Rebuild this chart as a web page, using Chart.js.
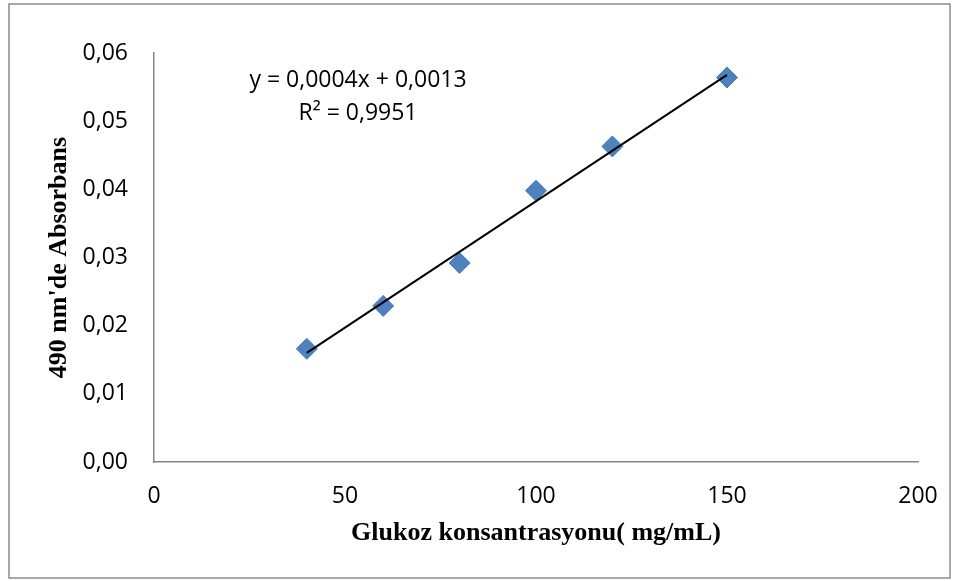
<!DOCTYPE html>
<html>
<head>
<meta charset="utf-8">
<script src="https://cdn.jsdelivr.net/npm/chart.js@4"></script>
<style>
  html, body { margin: 0; padding: 0; background: #fff; }
  #wrap { position: relative; width: 959px; height: 581px; }
</style>
</head>
<body>
<div id="wrap"><canvas id="c" width="959" height="581"></canvas></div>
<script>
// Data
const concentrations = [40, 60, 80, 100, 120, 150];
const absorbance = [0.0166, 0.0229, 0.0292, 0.0398, 0.0463, 0.0564];
const trendX = [40, 150];
const trendY = [0.0160, 0.0568];
const xTicks = [0, 50, 100, 150, 200];
const yTicks = [0, 0.01, 0.02, 0.03, 0.04, 0.05, 0.06];
const equationLines = ['y = 0,0004x + 0,0013', 'R\u00B2 = 0,9951'];
const xTitle = 'Glukoz konsantrasyonu( mg/mL)';
const yTitle = "490 nm'de Absorbans";

const tickFont = { family: '"Open Sans", sans-serif', size: 23 };
const titleFont = { family: '"Liberation Serif", "Times New Roman", serif', size: 26, weight: 'bold' };

const framePlugin = {
  id: 'frame',
  beforeDraw(chart) {
    const ctx = chart.ctx;
    ctx.save();
    ctx.fillStyle = '#ffffff';
    ctx.fillRect(0, 0, chart.width, chart.height);
    ctx.strokeStyle = '#8c8c8c';
    ctx.lineWidth = 1.5;
    ctx.strokeRect(9, 4, 941, 574);
    ctx.restore();
  }
};

const equationPlugin = {
  id: 'equation',
  afterDatasetsDraw(chart) {
    const ctx = chart.ctx;
    ctx.save();
    ctx.font = '23px "Open Sans", sans-serif';
    ctx.fillStyle = '#000';
    ctx.textAlign = 'center';
    ctx.textBaseline = 'middle';
    ctx.fillText(equationLines[0], 358, 80);
    ctx.fillText(equationLines[1], 358, 113);
    ctx.restore();
  }
};

new Chart(document.getElementById('c'), {
  type: 'scatter',
  data: {
    datasets: [
      {
        type: 'line',
        label: 'Trend',
        data: trendX.map((x, i) => ({ x, y: trendY[i] })),
        borderColor: '#000000',
        borderWidth: 2,
        pointRadius: 0,
        fill: false,
        order: 0
      },
      {
        label: 'Absorbans',
        data: concentrations.map((x, i) => ({ x, y: absorbance[i] })),
        pointStyle: 'rectRot',
        pointRadius: 10.5,
        pointHoverRadius: 10.5,
        backgroundColor: '#4f81bd',
        borderColor: '#4a7ebb',
        borderWidth: 1,
        order: 1
      }
    ]
  },
  options: {
    responsive: false,
    animation: false,
    layout: { padding: { left: 20, right: 41, top: 53, bottom: 20 } },
    plugins: { legend: { display: false }, tooltip: { enabled: false } },
    scales: {
      x: {
        type: 'linear',
        min: 0, max: 200,
        afterBuildTicks(scale) { scale.ticks = xTicks.map(v => ({ value: v })); },
        afterFit(scale) { scale.height = 99; },
        grid: { display: false, drawTicks: false },
        border: { display: true, color: '#868686', width: 1.5 },
        ticks: { font: tickFont, color: '#000', padding: 21, maxRotation: 0 },
        title: { display: true, text: xTitle, font: titleFont, color: '#000', padding: { top: 0, bottom: 12 } }
      },
      y: {
        type: 'linear',
        min: 0, max: 0.06,
        afterBuildTicks(scale) { scale.ticks = yTicks.map(v => ({ value: v })); },
        afterFit(scale) { scale.width = 134; },
        grid: { display: false, drawTicks: false },
        border: { display: true, color: '#868686', width: 1.5 },
        ticks: {
          font: tickFont, color: '#000', padding: 26,
          callback: v => v.toFixed(2).replace('.', ',')
        },
        title: { display: true, text: yTitle, font: titleFont, color: '#000', padding: { top: 24, bottom: 0 } }
      }
    }
  },
  plugins: [framePlugin, equationPlugin]
});
</script>
</body>
</html>
